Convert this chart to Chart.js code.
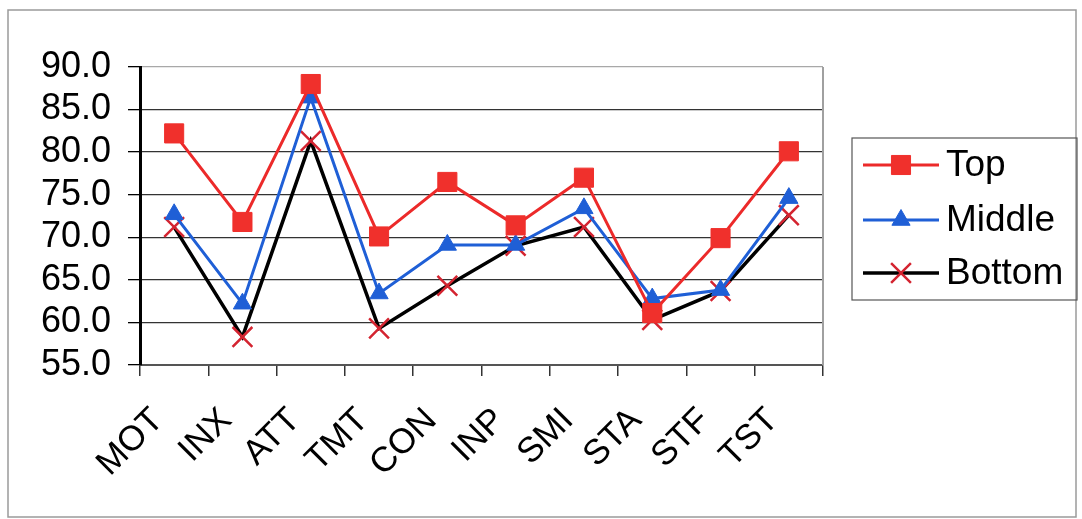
<!DOCTYPE html>
<html>
<head>
<meta charset="utf-8">
<script src="https://cdn.jsdelivr.net/npm/chart.js@4"></script>
<style>
html,body{margin:0;padding:0;background:#fff;}
#wrap{position:relative;width:1082px;height:519px;}
</style>
</head>
<body>
<div id="wrap"><canvas id="c" width="1082" height="519"></canvas></div>
<script>
const categories = ["MOT","INX","ATT","TMT","CON","INP","SMI","STA","STF","TST"];
const topValues    = [82.2, 71.8, 88.0, 70.1, 76.5, 71.4, 77.0, 61.1, 69.9, 80.1];
const middleValues = [72.7, 62.2, 86.4, 63.4, 69.1, 69.1, 73.4, 62.8, 63.8, 74.6];
const bottomValues = [71.2, 58.3, 81.3, 59.3, 64.3, 69.0, 71.2, 60.3, 63.7, 72.6];
const seriesNames = ["Top","Middle","Bottom"];
const yTicks = [55, 60, 65, 70, 75, 80, 85, 90];

const FONT = "'Liberation Sans', Arial, sans-serif";

const frame = {
  id: 'frame',
  beforeDraw(chart) {
    const ctx = chart.ctx;
    ctx.save();
    ctx.strokeStyle = '#9a9a9a';
    ctx.lineWidth = 1.5;
    ctx.strokeRect(8, 10, 1068, 507);
    ctx.restore();
  },
  afterDatasetsDraw(chart) {
    const a = chart.chartArea, ctx = chart.ctx;
    ctx.save();
    ctx.strokeStyle = '#a0a0a0';
    ctx.lineWidth = 2;
    ctx.beginPath();
    ctx.moveTo(a.right, a.top);
    ctx.lineTo(a.right, a.bottom);
    ctx.stroke();
    ctx.restore();
  }
};

const boxLegend = {
  id: 'boxLegend',
  afterDraw(chart) {
    const ctx = chart.ctx;
    const x0 = 852, y0 = 138, x1 = 1077, y1 = 300;
    ctx.save();
    ctx.strokeStyle = '#555';
    ctx.lineWidth = 1.2;
    ctx.strokeRect(x0, y0, x1 - x0, y1 - y0);
    const rows = [165, 220, 273];
    chart.data.datasets.forEach((ds, i) => {
      const y = rows[i];
      ctx.strokeStyle = ds.borderColor;
      ctx.lineWidth = ds.borderWidth;
      ctx.beginPath();
      ctx.moveTo(863, y);
      ctx.lineTo(939, y);
      ctx.stroke();
      ctx.fillStyle = ds.pointBackgroundColor;
      ctx.strokeStyle = ds.pointBorderColor;
      ctx.lineWidth = ds.pointBorderWidth;
      Chart.helpers.drawPoint(ctx, {pointStyle: ds.pointStyle, rotation: 0, radius: ds.pointRadius, borderWidth: ds.pointBorderWidth}, 901, y);
      ctx.fillStyle = '#000';
      ctx.font = '37px ' + FONT;
      ctx.textBaseline = 'middle';
      ctx.textAlign = 'left';
      ctx.fillText(ds.label, 946, y + 1);
    });
    ctx.restore();
  }
};

new Chart(document.getElementById('c'), {
  type: 'line',
  data: {
    labels: categories,
    datasets: [
      {label: seriesNames[0], data: topValues, borderColor: '#ec2a2a', borderWidth: 3,
       pointStyle: 'rect', pointRadius: 13.5, pointBackgroundColor: '#f0302c', pointBorderColor: '#f0302c', pointBorderWidth: 1},
      {label: seriesNames[1], data: middleValues, borderColor: '#1f5fd6', borderWidth: 3,
       pointStyle: 'triangle', pointRadius: 10.5, pointBackgroundColor: '#1f5fd6', pointBorderColor: '#1f5fd6', pointBorderWidth: 1},
      {label: seriesNames[2], data: bottomValues, borderColor: '#000000', borderWidth: 3.5,
       pointStyle: 'crossRot', pointRadius: 14, pointBackgroundColor: '#d42430', pointBorderColor: '#d42430', pointBorderWidth: 2.5}
    ]
  },
  options: {
    responsive: false,
    animation: false,
    devicePixelRatio: 1,
    layout: {padding: {left: 0, top: 67, right: 259, bottom: 0}},
    plugins: {legend: {display: false}, tooltip: {enabled: false}},
    elements: {line: {tension: 0}},
    scales: {
      x: {
        offset: true,
        grid: {offset: true, drawOnChartArea: false, drawTicks: true, tickLength: 11, color: '#333', lineWidth: 1.5},
        border: {color: '#555', width: 2},
        ticks: {font: {family: FONT, size: 35}, color: '#000', maxRotation: 45, minRotation: 45, padding: 24, labelOffset: -16, autoSkip: false},
        afterFit(s) { s.height = 154; }
      },
      y: {
        min: 55, max: 90,
        afterBuildTicks(s) { s.ticks = yTicks.map(v => ({value: v})); },
        grid: {color: (c) => (c.tick && c.tick.value === 90) ? '#a8a8a8' : '#333', tickColor: '#000', lineWidth: 1.3, tickLength: 12},
        border: {color: '#000', width: 3},
        ticks: {font: {family: FONT, size: 36}, color: '#000', padding: 17, autoSkip: false, callback: (v) => Number(v).toFixed(1)},
        afterFit(s) { s.width = 140; }
      }
    }
  },
  plugins: [frame, boxLegend]
});
</script>
</body>
</html>
